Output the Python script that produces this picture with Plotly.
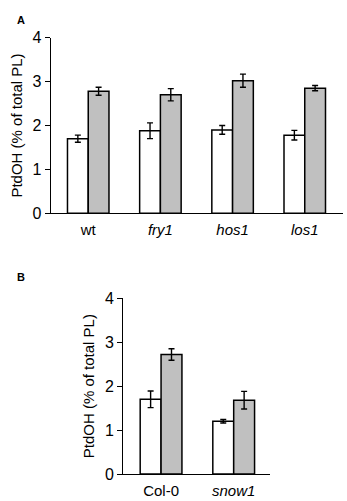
import plotly.graph_objects as go

W, H = 347, 501

# Panel A data
cats_a = ["wt", "fry1", "hos1", "los1"]
labels_a = ["wt", "<i>fry1</i>", "<i>hos1</i>", "<i>los1</i>"]
white_a = [1.70, 1.88, 1.90, 1.78]
white_a_err = [0.08, 0.18, 0.10, 0.11]
grey_a = [2.78, 2.70, 3.02, 2.85]
grey_a_err = [0.09, 0.14, 0.15, 0.06]

# Panel B data
cats_b = ["Col-0", "snow1"]
labels_b = ["Col-0", "<i>snow1</i>"]
white_b = [1.70, 1.20]
white_b_err = [0.19, 0.04]
grey_b = [2.72, 1.68]
grey_b_err = [0.13, 0.20]

y_ticks = [0, 1, 2, 3, 4]
y_title = "PtdOH (% of total PL)"

FONT = "Liberation Sans, Arial, sans-serif"
line = dict(color="black", width=1.5)
err = dict(type="data", thickness=1.4, width=3, color="black")

fig = go.Figure()
fig.add_trace(go.Bar(x=cats_a, y=white_a, error_y=dict(array=white_a_err, **err),
                     marker=dict(color="white", line=line), xaxis="x", yaxis="y",
                     offsetgroup="w"))
fig.add_trace(go.Bar(x=cats_a, y=grey_a, error_y=dict(array=grey_a_err, **err),
                     marker=dict(color="#c0c0c0", line=line), xaxis="x", yaxis="y",
                     offsetgroup="g"))
fig.add_trace(go.Bar(x=cats_b, y=white_b, error_y=dict(array=white_b_err, **err),
                     marker=dict(color="white", line=line), xaxis="x2", yaxis="y2",
                     offsetgroup="w"))
fig.add_trace(go.Bar(x=cats_b, y=grey_b, error_y=dict(array=grey_b_err, **err),
                     marker=dict(color="#c0c0c0", line=line), xaxis="x2", yaxis="y2",
                     offsetgroup="g"))

def px_x(p):
    return p / W

def px_y(p):
    return (H - p) / H

xcommon = dict(type="category", showline=True, linecolor="black", linewidth=1.3,
               ticks="", showgrid=False, zeroline=False, automargin=False,
               ticklabelstandoff=3,
               tickfont=dict(family=FONT, size=15, color="black"))
ycommon = dict(range=[0, 4], tickvals=y_ticks, showline=True, linecolor="black",
               linewidth=1.3, ticks="outside", ticklen=5, tickwidth=1.3, tickcolor="black",
               showgrid=False, zeroline=False, automargin=False,
               tickfont=dict(family=FONT, size=16, color="black"),
               title=dict(text=y_title, font=dict(family=FONT, size=15, color="black"),
                          standoff=6))

fig.update_layout(
    width=W, height=H,
    margin=dict(l=0, r=0, t=0, b=0),
    paper_bgcolor="white", plot_bgcolor="white",
    showlegend=False,
    barmode="group", bargap=0.425, bargroupgap=0,
    font=dict(family=FONT, color="black"),
    xaxis=dict(domain=[px_x(50.7), px_x(343)], anchor="y", range=[-0.52, 3.53],
               tickvals=cats_a, ticktext=labels_a, **xcommon),
    yaxis=dict(domain=[px_y(213.3), px_y(37.7)], anchor="x", **ycommon),
    xaxis2=dict(domain=[px_x(123.3), px_x(270)], anchor="y2", range=[-0.52, 1.5],
                tickvals=cats_b, ticktext=labels_b, **xcommon),
    yaxis2=dict(domain=[px_y(474), px_y(298.3)], anchor="x2", **ycommon),
    annotations=[
        dict(text="<b>A</b>", x=px_x(15), y=px_y(12.5), xref="paper", yref="paper",
             showarrow=False, font=dict(family=FONT, size=11, color="black")),
        dict(text="<b>B</b>", x=px_x(14.7), y=px_y(276.7), xref="paper", yref="paper",
             showarrow=False, font=dict(family=FONT, size=11, color="black")),
    ],
)

fig.write_html("out.html", config={"displayModeBar": False},
               post_script="document.body.style.margin='0';document.body.style.padding='0';")
